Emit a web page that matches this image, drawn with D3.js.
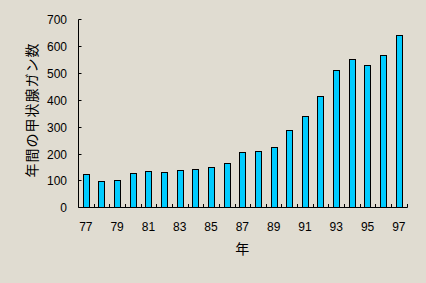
<!DOCTYPE html>
<html><head><meta charset="utf-8">
<script src="https://cdn.jsdelivr.net/npm/d3@7"></script>
<style>
html,body{margin:0;padding:0;background:#e0dcd1;}
svg{display:block;}
text{font-family:"Liberation Sans",Arial,sans-serif;fill:#000;}
</style></head><body>
<script>
const years = ["77","78","79","80","81","82","83","84","85","86","87","88","89","90","91","92","93","94","95","96","97"];
const cases = [124,97,100,128,135,131,138,143,150,165,206,210,224,287,339,413,511,552,530,567,641];
const yTicks = [0,100,200,300,400,500,600,700];
const xLabels = ["77","79","81","83","85","87","89","91","93","95","97"];
const yTitle = "年間の甲状腺ガン数";
const xTitle = "年";

const W=426,H=283;
const svg=d3.select("body").append("svg").attr("width",W).attr("height",H);
svg.append("rect").attr("width",W).attr("height",H).attr("fill","#e0dcd1");

const x0=78, x1=406.7, yTop=19.3, yBot=207.3;
const x=d3.scaleBand().domain(years).range([x0,x1]).paddingInner(0).paddingOuter(0);
const y=d3.scaleLinear().domain([0,700]).range([yBot,yTop]);

const g=svg.append("g");
const bw=x.bandwidth()*0.4;
g.selectAll("rect.bar").data(years).enter().append("rect")
 .attr("x",d=>Math.round(x(d)+x.bandwidth()/2-bw/2)+0.5)
 .attr("y",(d,i)=>Math.round(y(cases[i]))+0.5)
 .attr("width",Math.round(bw))
 .attr("height",(d,i)=>Math.round(yBot)-Math.round(y(cases[i])))
 .attr("fill","#00ccff").attr("stroke","#000").attr("stroke-width",1);

// y axis
const yb=Math.round(yBot)+0.5, xl=Math.round(x0)+0.5;
g.append("line").attr("x1",xl).attr("x2",xl).attr("y1",Math.round(yTop)+0.5).attr("y2",yb).attr("stroke","#000");
yTicks.forEach(t=>{
  const yy=Math.round(y(t))+0.5;
  g.append("line").attr("x1",xl).attr("x2",xl+3).attr("y1",yy).attr("y2",yy).attr("stroke","#000");
  g.append("text").attr("x",67).attr("y",yy+4.5).attr("text-anchor","end").attr("font-size",12).text(t);
});
// x axis
g.append("line").attr("x1",xl).attr("x2",Math.round(x1)+0.5).attr("y1",yb).attr("y2",yb).attr("stroke","#000");
years.forEach((d,i)=>{
  const xx=Math.round(x(d)+x.bandwidth())+0.5;
  g.append("line").attr("x1",xx).attr("x2",xx).attr("y1",yb).attr("y2",yb-3.5).attr("stroke","#000");
});
xLabels.forEach(d=>{
  g.append("text").attr("x",x(d)+x.bandwidth()/2).attr("y",231).attr("text-anchor","middle").attr("font-size",12).text(d);
});
svg.append("text").attr("x",(x0+x1)/2).attr("y",254).attr("text-anchor","middle")
 .attr("font-size",14).style("font-family","'Noto Sans CJK JP',sans-serif").text(xTitle);
svg.append("text").attr("transform","translate(37,110) rotate(-90)").attr("text-anchor","middle")
 .attr("font-size",14).attr("letter-spacing",1).style("font-family","'Noto Sans CJK JP',sans-serif").text(yTitle);
</script>
</body></html>
